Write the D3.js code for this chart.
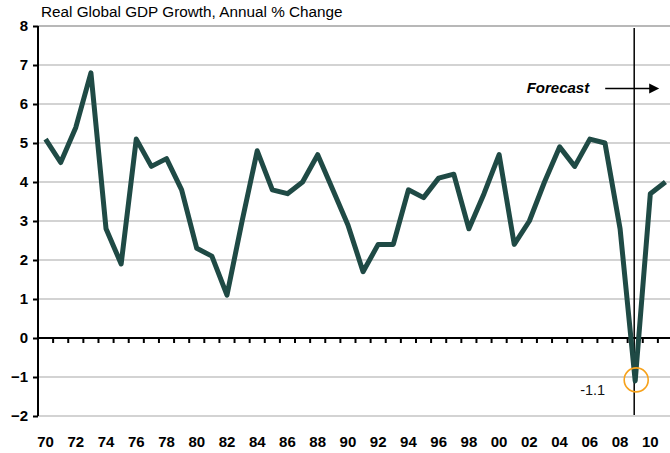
<!DOCTYPE html>
<html>
<head>
<meta charset="utf-8">
<script src="https://cdn.jsdelivr.net/npm/d3@7"></script>
<style>
  body { margin: 0; background: #fff; }
  svg { display: block; font-family: Arial, "Liberation Sans", sans-serif; }
</style>
</head>
<body>
<div class="chart"></div>
<script>
// data
var years = d3.range(1970, 2012);
var growth = [5.1, 4.5, 5.4, 6.8, 2.8, 1.9, 5.1, 4.4, 4.6, 3.8,
              2.3, 2.1, 1.1, 3.0, 4.8, 3.8, 3.7, 4.0, 4.7, 3.8,
              2.9, 1.7, 2.4, 2.4, 3.8, 3.6, 4.1, 4.2, 2.8, 3.7,
              4.7, 2.4, 3.0, 4.0, 4.9, 4.4, 5.1, 5.0, 2.8, -1.1,
              3.7, 4.0];
var yTicks = [-2, -1, 0, 1, 2, 3, 4, 5, 6, 7, 8];
var xLabelYears = d3.range(1970, 2012, 2);
var forecastYear = 2009;
var lowYear = 2009;
var lowLabel = "-1.1";
var title = "Real Global GDP Growth, Annual % Change";

var svgWidth = 670;
var svgHeight = 453;
var margin = { top: 26, right: -3, bottom: 37, left: 38 };
var width = svgWidth - margin.left - margin.right;
var height = svgHeight - margin.top - margin.bottom;

var svg = d3.select('.chart')
  .append('svg')
    .attr('width', svgWidth)
    .attr('height', svgHeight);

var chart = svg.append('g')
    .attr('transform', 'translate(' + margin.left + ',' + margin.top + ')');

var xScale = d3.scaleBand().domain(years).range([0, width]);
var yScale = d3.scaleLinear().domain([-2, 8]).range([height, 0]);
var xc = function(yr) { return xScale(yr) + xScale.bandwidth() / 2; };

// title
svg.append('text')
  .attr('x', 41)
  .attr('y', 17)
  .attr('font-size', 15.3)
  .attr('fill', '#000')
  .text(title);

// gridlines
chart.append('g')
  .selectAll('line')
  .data(yTicks.filter(function(d) { return d !== 0; }))
  .enter().append('line')
    .attr('x1', 0)
    .attr('x2', width)
    .attr('y1', function(d) { return yScale(d); })
    .attr('y2', function(d) { return yScale(d); })
    .attr('stroke', function(d) { return d === 8 ? '#a0a0a0' : '#c4c4c4'; })
    .attr('stroke-width', 1.5);

// y axis
var leftAxis = d3.axisLeft(yScale).tickValues(yTicks).tickSize(5).tickPadding(5);
var yAxis = chart.append('g').call(leftAxis);
yAxis.select('.domain').remove();
yAxis.selectAll('.tick line').attr('stroke', '#000').attr('stroke-width', 2);
yAxis.selectAll('.tick text')
  .attr('font-size', 15)
  .attr('font-weight', 'bold')
  .attr('font-family', 'Arial, "Liberation Sans", sans-serif')
  .attr('fill', '#000');
chart.append('line')
  .attr('x1', 0).attr('x2', 0)
  .attr('y1', 0).attr('y2', height)
  .attr('stroke', '#000')
  .attr('stroke-width', 2);

// zero line with category ticks
chart.append('line')
  .attr('x1', 0).attr('x2', width)
  .attr('y1', yScale(0)).attr('y2', yScale(0))
  .attr('stroke', '#000')
  .attr('stroke-width', 2);
chart.append('g')
  .selectAll('line')
  .data(years.slice(1))
  .enter().append('line')
    .attr('x1', function(d) { return xScale(d); })
    .attr('x2', function(d) { return xScale(d); })
    .attr('y1', yScale(0))
    .attr('y2', yScale(0) + 5)
    .attr('stroke', '#000')
    .attr('stroke-width', 2);

// x labels
chart.append('g')
  .selectAll('text')
  .data(xLabelYears)
  .enter().append('text')
    .attr('x', function(d) { return xc(d); })
    .attr('y', height + 31)
    .attr('text-anchor', 'middle')
    .attr('font-size', 15)
    .attr('font-weight', 'bold')
    .text(function(d) { return String(d).slice(2); });

// forecast divider
chart.append('line')
  .attr('x1', xc(forecastYear) - 1).attr('x2', xc(forecastYear) - 1)
  .attr('y1', 2).attr('y2', height - 1)
  .attr('stroke', '#000')
  .attr('stroke-width', 1.5);

chart.append('text')
  .attr('x', xc(forecastYear) - 46)
  .attr('y', 67)
  .attr('text-anchor', 'end')
  .attr('font-size', 15)
  .attr('font-weight', 'bold')
  .attr('font-style', 'italic')
  .text('Forecast');

var arrowY = 62.5;
var ax0 = xc(forecastYear) - 30;
var ax1 = xc(forecastYear) + 24;
chart.append('line')
  .attr('x1', ax0).attr('x2', ax1 - 8)
  .attr('y1', arrowY).attr('y2', arrowY)
  .attr('stroke', '#000')
  .attr('stroke-width', 1.5);
chart.append('path')
  .attr('d', 'M' + (ax1 - 10) + ',' + (arrowY - 5) + 'L' + ax1 + ',' + arrowY + 'L' + (ax1 - 10) + ',' + (arrowY + 5) + 'Z')
  .attr('fill', '#000');

// the series
var line = d3.line()
  .x(function(d, i) { return xc(years[i]); })
  .y(function(d) { return yScale(d); });

chart.append('path')
  .datum(growth)
  .attr('d', line)
  .attr('fill', 'none')
  .attr('stroke', '#1f4a45')
  .attr('stroke-width', 5)
  .attr('stroke-linejoin', 'round')
  .attr('stroke-linecap', 'butt');

// low point marker
var lowValue = growth[years.indexOf(lowYear)];
chart.append('circle')
  .attr('cx', xc(lowYear) + 1)
  .attr('cy', yScale(lowValue) - 1)
  .attr('r', 12)
  .attr('fill', 'none')
  .attr('stroke', '#f7a21b')
  .attr('stroke-width', 1.6);

chart.append('text')
  .attr('x', xc(lowYear) - 30)
  .attr('y', yScale(lowValue) + 14)
  .attr('text-anchor', 'end')
  .attr('font-size', 14.5)
  .attr('fill', '#111')
  .text(lowLabel);
</script>
</body>
</html>
